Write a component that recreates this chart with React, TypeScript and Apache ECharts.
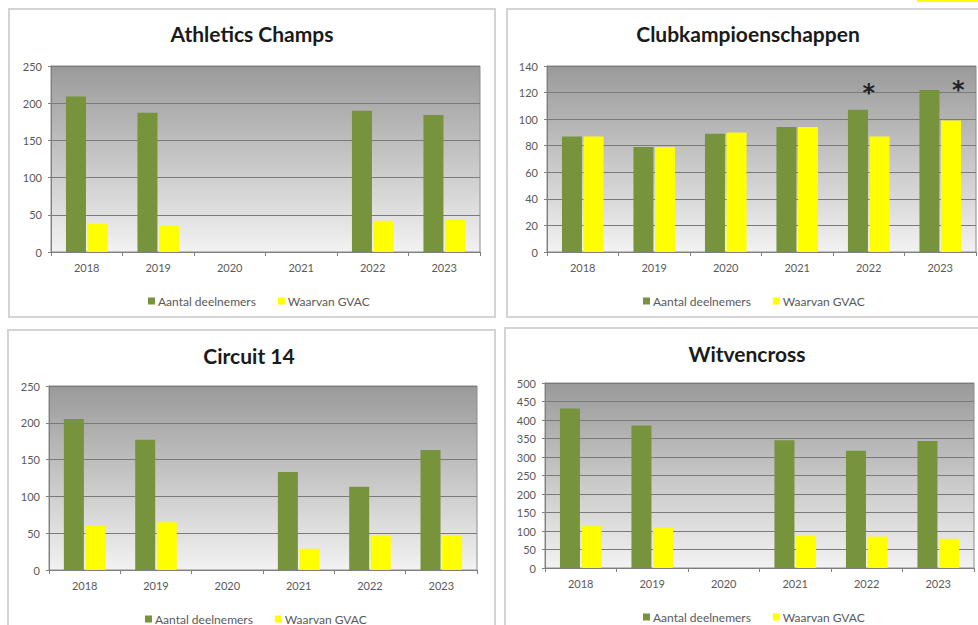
import React, { useEffect, useRef } from "react";
import * as echarts from "echarts";

const years = ["2018", "2019", "2020", "2021", "2022", "2023"];
const seriesNames = ["Aantal deelnemers", "Waarvan GVAC"];

const athleticsTotal = [209, 187, null, null, 190, 184];
const athleticsGvac = [38, 35, null, null, 42, 43];

const clubTotal = [87, 79, 89, 94, 107, 122];
const clubGvac = [87, 79, 90, 94, 87, 99];
const clubStars = [null, null, null, null, 120, 122];

const circuitTotal = [205, 177, null, 133, 113, 163];
const circuitGvac = [60, 65, null, 29, 47, 47];

const witvenTotal = [431, 385, null, 345, 317, 343];
const witvenGvac = [113, 108, null, 87, 85, 79];

const titles = ["Athletics Champs", "Clubkampioenschappen", "Circuit 14", "Witvencross"];
const yMax = [250, 140, 250, 500];
const yStep = [50, 20, 50, 50];

const GREEN = "#77933C";
const YELLOW = "#FFFF00";
const FONT = "Lato";

export default function App() {
  const ref = useRef<HTMLDivElement>(null);
  useEffect(() => {
    if (!ref.current) return;
    const chart = echarts.init(ref.current, null, { renderer: "svg" });

    const panels = [
      { grid: { left: 51, top: 66, width: 429, height: 186 }, title: [252, 33], legend: [143, 290], frame: [9, 9, 486, 308], total: athleticsTotal, gvac: athleticsGvac },
      { grid: { left: 547, top: 66, width: 429, height: 186 }, title: [748, 33], legend: [638, 290], frame: [507, 9, 480, 308], total: clubTotal, gvac: clubGvac },
      { grid: { left: 49, top: 386, width: 428, height: 184 }, title: [249, 355], legend: [140, 608], frame: [8, 330, 487, 310], total: circuitTotal, gvac: circuitGvac },
      { grid: { left: 545, top: 383, width: 429, height: 185 }, title: [747, 353], legend: [638, 606], frame: [505, 328, 480, 310], total: witvenTotal, gvac: witvenGvac },
    ];

    const bg = new echarts.graphic.LinearGradient(0, 0, 0, 1, [
      { offset: 0, color: "#9a9a9a" },
      { offset: 1, color: "#f2f2f2" },
    ]);

    const grids: any[] = [];
    const xAxes: any[] = [];
    const yAxes: any[] = [];
    const series: any[] = [];
    const legends: any[] = [];
    const graphics: any[] = [];

    panels.forEach((p, i) => {
      grids.push({
        ...p.grid,
        show: true,
        backgroundColor: bg,
        borderColor: "#8c8c8c",
        borderWidth: 1,
      });
      xAxes.push({
        type: "category",
        gridIndex: i,
        data: years,
        axisLine: { show: true, lineStyle: { color: "#7f7f7f", width: 1 } },
        axisTick: { show: true, length: 4, lineStyle: { color: "#7f7f7f" } },
        axisLabel: { color: "#595959", fontFamily: FONT, fontSize: 11, margin: 10 },
      });
      yAxes.push({
        type: "value",
        gridIndex: i,
        min: 0,
        max: yMax[i],
        interval: yStep[i],
        axisLine: { show: true, lineStyle: { color: "#7f7f7f" } },
        axisTick: { show: true, length: 3, lineStyle: { color: "#7f7f7f" } },
        axisLabel: { color: "#595959", fontFamily: FONT, fontSize: 11, margin: 9 },
        splitLine: { show: true, lineStyle: { color: "#7a7a7a", width: 1 } },
      });
      series.push({
        name: seriesNames[0],
        type: "bar",
        xAxisIndex: i,
        yAxisIndex: i,
        data: p.total,
        barWidth: 20,
        barGap: "8%",
        itemStyle: { color: GREEN },
      });
      series.push({
        name: seriesNames[1],
        type: "bar",
        xAxisIndex: i,
        yAxisIndex: i,
        data: p.gvac,
        barWidth: 20,
        barGap: "8%",
        itemStyle: { color: YELLOW },
      });
      legends.push({
        data: seriesNames,
        left: p.legend[0],
        top: p.legend[1],
        icon: "rect",
        itemWidth: 7,
        itemHeight: 7,
        itemGap: 22,
        textStyle: { color: "#595959", fontFamily: FONT, fontSize: 12, padding: [0, 0, 0, -2] },
        selectedMode: false,
      });
      graphics.push({
        type: "rect",
        z: -10,
        shape: { x: p.frame[0], y: p.frame[1], width: p.frame[2], height: p.frame[3] },
        style: { fill: "#ffffff", stroke: "#d4d4d4", lineWidth: 2 },
      });
      graphics.push({
        type: "text",
        x: p.title[0],
        y: p.title[1],
        style: {
          text: titles[i],
          fontFamily: FONT,
          fontSize: 21,
          fontWeight: "bold",
          fill: "#1a1a1a",
          textAlign: "center",
          textVerticalAlign: "middle",
        },
      });
    });

    // asterisk annotations on Clubkampioenschappen
    series.push({
      type: "scatter",
      xAxisIndex: 1,
      yAxisIndex: 1,
      symbolSize: 0,
      silent: true,
      data: clubStars
        .map((v, idx) =>
          v === null
            ? null
            : {
                value: [idx, v],
                label: { offset: idx === 5 ? [18, 0] : [0, 0] },
              }
        )
        .filter((d) => d !== null),
      label: {
        show: true,
        formatter: "*",
        position: "inside",
        color: "#000",
        fontSize: 24,
        fontWeight: "bold",
        fontFamily: "DejaVu Sans",
      },
    });

    graphics.push({
      type: "rect",
      shape: { x: 917, y: 0, width: 61, height: 2 },
      style: { fill: YELLOW },
    });

    chart.setOption({
      animation: false,
      backgroundColor: "#ffffff",
      grid: grids,
      xAxis: xAxes,
      yAxis: yAxes,
      series,
      legend: legends,
      graphic: graphics,
    });
    return () => chart.dispose();
  }, []);

  return (
    <div
      ref={ref}
      style={{ position: "fixed", left: 0, top: 0, width: 978, height: 625 }}
    />
  );
}
